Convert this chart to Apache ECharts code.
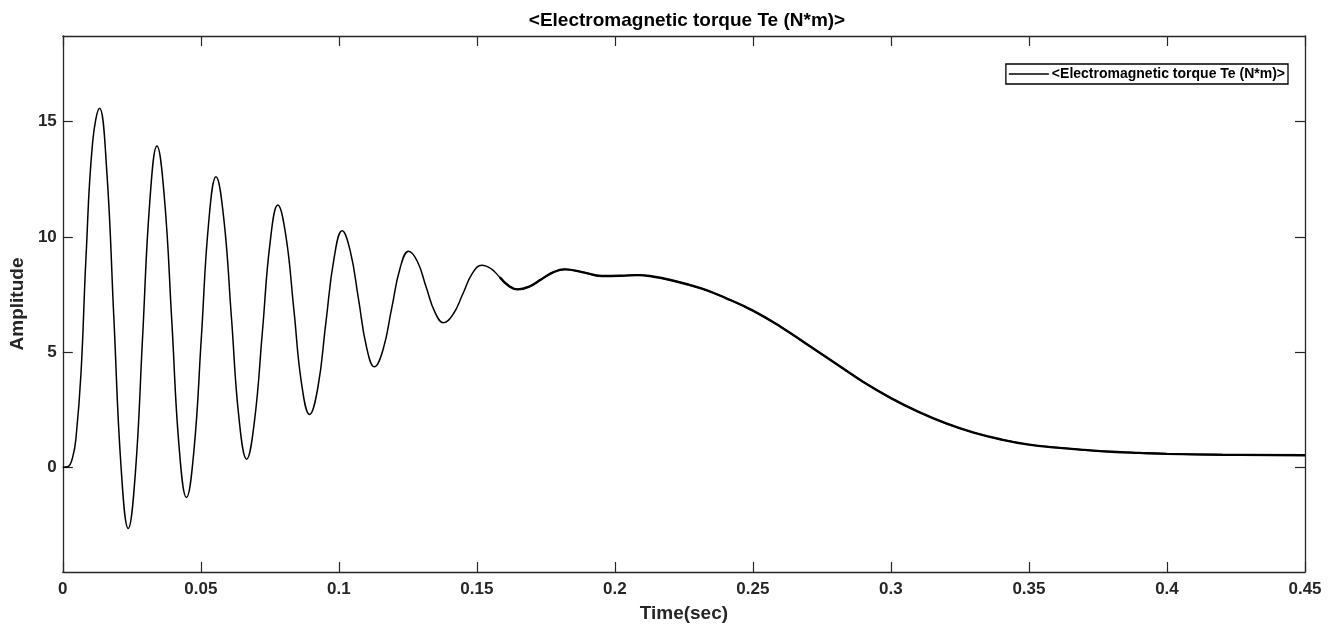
<!DOCTYPE html>
<html>
<head>
<meta charset="utf-8">
<script src="https://cdn.jsdelivr.net/npm/echarts@6/dist/echarts.min.js"></script>
<style>
html,body{margin:0;padding:0;background:#fff;}
#chart{width:1337px;height:630px;}
</style>
</head>
<body>
<div id="chart"></div>
<script>
// Time (s)
var timeValues = [
  0, 0.0018, 0.0036, 0.0048, 0.0066, 0.0084, 0.0108, 0.0133,
  0.0159, 0.0185, 0.0211, 0.0237,
  0.0263, 0.0289, 0.0315, 0.0341,
  0.0368, 0.0395, 0.0421, 0.0448,
  0.0475, 0.0502, 0.0528, 0.0555,
  0.0583, 0.0611, 0.0638, 0.0666,
  0.0694, 0.0723, 0.0751, 0.0779,
  0.0808, 0.0837, 0.0865, 0.0894,
  0.0924, 0.0953, 0.0983, 0.1012,
  0.1041, 0.1071, 0.1100, 0.1129,
  0.1160, 0.1191, 0.1222, 0.1253,
  0.1285, 0.1316, 0.1348, 0.1379,
  0.1414, 0.1449, 0.1483, 0.1518,
  0.1551, 0.1583, 0.1616, 0.1648,
  0.1691, 0.1734, 0.1776, 0.1819,
  0.1885, 0.1952, 0.2020, 0.2084, 0.2140, 0.2193,
  0.2313, 0.24, 0.25, 0.26, 0.27, 0.28, 0.29, 0.30, 0.31, 0.32,
  0.33, 0.34, 0.35, 0.36, 0.37, 0.38, 0.39, 0.40, 0.42, 0.45
];
// Electromagnetic torque Te (N*m)
var torqueValues = [
  0, 0.02, 0.45, 1.3, 4.1, 9.1, 14.1, 15.58,
  12.91, 6.46, 0.01, -2.66,
  -0.23, 5.64, 11.51, 13.94,
  11.70, 6.31, 0.92, -1.32,
  0.72, 5.65, 10.57, 12.61,
  10.81, 6.48, 2.15, 0.35,
  1.97, 5.87, 9.76, 11.38,
  10.05, 6.84, 3.62, 2.29,
  3.46, 6.28, 9.10, 10.27,
  9.40, 7.32, 5.23, 4.36,
  5.10, 6.87, 8.65, 9.38,
  8.92, 7.83, 6.73, 6.27,
  6.64, 7.52, 8.40, 8.77,
  8.62, 8.25, 7.87, 7.72,
  7.85, 8.16, 8.46, 8.59,
  8.46, 8.30, 8.31, 8.34, 8.27, 8.15,
  7.76, 7.35, 6.8, 6.1, 5.3, 4.5, 3.7, 3.0, 2.4, 1.9,
  1.5, 1.2, 0.98, 0.85, 0.75, 0.67, 0.62, 0.58, 0.54, 0.52
];
var yTicks = [0, 5, 10, 15];

var titleText = '<Electromagnetic torque Te (N*m)>';
var seriesName = '<Electromagnetic torque Te (N*m)>';

var points = timeValues.map(function (t, i) { return [t, torqueValues[i]]; });
// later part of the trace is drawn heavier in the reference (dense samples)
var densePart = points.filter(function (p) { return p[0] >= 0.1583; });

var FONT = '"Liberation Sans", Arial, Helvetica, sans-serif';
var AX = '#262626';
var axLine = {show: true, onZero: false, lineStyle: {color: AX, width: 1.3}};
var axTick = {show: true, inside: true, length: 10, lineStyle: {color: AX, width: 1.2}};

var chart = echarts.init(document.getElementById('chart'), null, {renderer: 'canvas'});
chart.setOption({
  backgroundColor: '#fff',
  animation: false,
  title: {
    text: titleText,
    left: 682, textAlign: 'center', top: 6,
    textStyle: {fontFamily: FONT, fontWeight: 'bold', fontSize: 19, color: '#000'}
  },
  legend: {
    right: 49, top: 64,
    orient: 'vertical',
    borderColor: '#000', borderWidth: 1.3, padding: [3, 3, 3, 3],
    itemWidth: 40, itemHeight: 14, itemGap: 0,
    textStyle: {fontFamily: FONT, fontWeight: 'bold', fontSize: 14, color: '#000', padding: [0, 0, 0, -2]},
    data: [{name: seriesName, icon: 'path://M0,6.6L40,6.6L40,8L0,8Z', itemStyle: {color: '#000'}}]
  },
  grid: {left: 60, right: 32, top: 36, bottom: 58, show: false},
  xAxis: [{
    type: 'value', min: 0, max: 0.45, interval: 0.05,
    name: 'Time(sec)', nameLocation: 'middle', nameGap: 32,
    nameTextStyle: {fontFamily: FONT, fontWeight: 'bold', fontSize: 19, color: AX},
    axisLine: axLine, axisTick: axTick,
    axisLabel: {fontFamily: FONT, fontWeight: 'bold', fontSize: 17, color: AX, margin: 9,
      formatter: function (v) { return String(+v.toFixed(2)); }},
    splitLine: {show: false}
  }, {
    type: 'value', min: 0, max: 0.45, interval: 0.05, position: 'top',
    axisLine: axLine, axisTick: axTick,
    axisLabel: {show: false}, splitLine: {show: false}
  }],
  yAxis: [{
    type: 'value', min: -4.55, max: 18.72,
    name: 'Amplitude', nameLocation: 'middle', nameGap: 31, nameRotate: 90,
    nameTextStyle: {fontFamily: FONT, fontWeight: 'bold', fontSize: 19, color: AX},
    axisLine: axLine,
    axisTick: {show: true, inside: true, length: 10, lineStyle: {color: AX, width: 1.2}, customValues: yTicks},
    axisLabel: {fontFamily: FONT, fontWeight: 'bold', fontSize: 17, color: AX, margin: 6, customValues: yTicks},
    splitLine: {show: false}
  }, {
    type: 'value', min: -4.55, max: 18.72, position: 'right',
    axisLine: axLine,
    axisTick: {show: true, inside: true, length: 10, lineStyle: {color: AX, width: 1.2}, customValues: yTicks},
    axisLabel: {show: false}, splitLine: {show: false}
  }],
  series: [{
    name: seriesName, type: 'line', xAxisIndex: 0, yAxisIndex: 0,
    data: points, showSymbol: false, smooth: 0.45,
    lineStyle: {color: '#000', width: 1.5},
    itemStyle: {color: '#000'}
  }, {
    name: 'dense', type: 'line', xAxisIndex: 0, yAxisIndex: 0,
    data: densePart, showSymbol: false, smooth: 0.45,
    lineStyle: {color: '#000', width: 2.4},
    itemStyle: {color: '#000'}, silent: true
  }]
});
</script>
</body>
</html>
